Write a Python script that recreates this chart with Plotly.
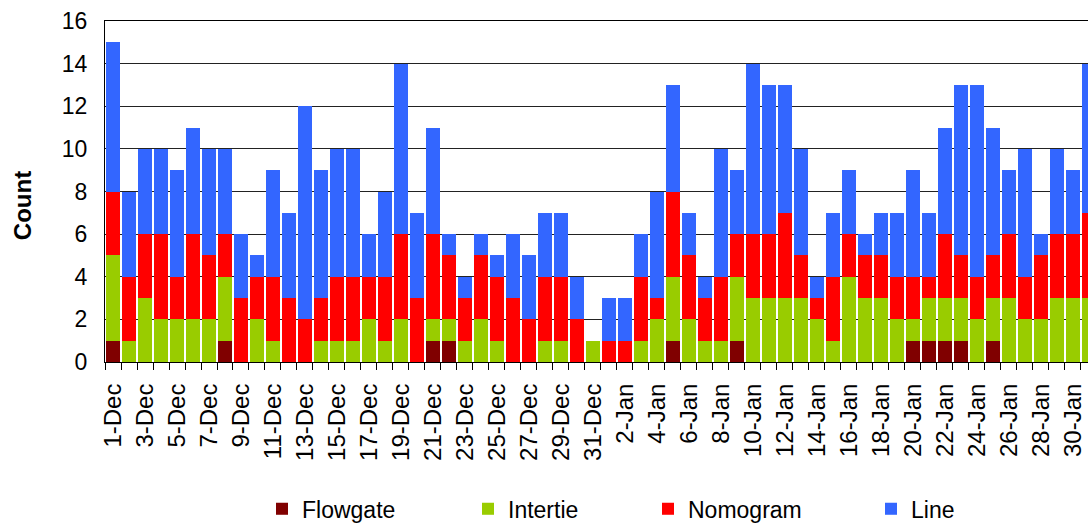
import plotly.graph_objects as go

dates = [f"{d}-Dec" for d in range(1, 32)] + [f"{d}-Jan" for d in range(1, 32)]

flowgate = [1,0,0,0,0,0,0,1,0,0,0,0,0,0,0,0,0,0,0,0,1,1,0,0,0,0,0,0,0,0,0,
            0,0,0,0,1,0,0,0,1,0,0,0,0,0,0,0,0,0,0,1,1,1,1,0,1,0,0,0,0,0,0]
intertie = [4,1,3,2,2,2,2,3,0,2,1,0,0,1,1,1,2,1,2,0,1,1,1,2,1,0,0,1,1,0,1,
            0,0,1,2,3,2,1,1,3,3,3,3,3,2,1,4,3,3,2,1,2,2,2,2,2,3,2,2,3,3,3]
nomogram = [3,3,3,4,2,4,3,2,3,2,3,3,2,2,3,3,2,3,4,3,4,3,2,3,3,3,2,3,3,2,0,
            1,1,3,1,4,3,2,3,2,3,3,4,2,1,3,2,2,2,2,2,1,3,2,2,2,3,2,3,3,3,4]
line = [7,4,4,4,5,5,5,4,3,1,5,4,10,6,6,6,2,4,8,4,5,1,1,1,1,3,3,3,3,2,0,
        2,2,2,5,5,2,1,6,3,8,7,6,5,1,3,3,1,2,3,5,3,5,8,9,6,3,6,1,4,3,7]

series = [
    ("Flowgate", flowgate, "#800000"),
    ("Intertie", intertie, "#99CC00"),
    ("Nomogram", nomogram, "#FF0000"),
    ("Line", line, "#3366FF"),
]

FONT = "Liberation Sans, Arial, sans-serif"
L, R_EDGE, W, H = 105, 1088, 1088, 523
TOP, BOT = 20.6, 362
plot_w = R_EDGE - L
plot_h = BOT - TOP

# legend block left edges (pixels)
legend_px = [262, 468, 648, 871]

fig = go.Figure()
for k, (name, vals, color) in enumerate(series):
    lg = "legend" if k == 0 else f"legend{k+1}"
    fig.add_trace(go.Bar(
        x=dates, y=vals, name=name, marker_color=color,
        marker_line_width=0, legend=lg, showlegend=True,
    ))

ticktext = [d if i % 2 == 0 else "" for i, d in enumerate(dates)]

layout_legends = {}
for k, px in enumerate(legend_px):
    key = "legend" if k == 0 else f"legend{k+1}"
    layout_legends[key] = dict(
        x=(px - L) / plot_w, xanchor="left",
        y=-(509 - BOT) / plot_h, yanchor="middle",
        orientation="h", font=dict(family=FONT, size=23, color="#000"),
        bgcolor="rgba(0,0,0,0)", itemwidth=30,
    )

fig.update_layout(
    width=W, height=H, showlegend=True,
    barmode="stack", bargap=0.125,
    plot_bgcolor="white", paper_bgcolor="white",
    margin=dict(l=L, r=W - R_EDGE, t=TOP, b=H - BOT, autoexpand=False),
    font=dict(family=FONT, size=23, color="#000"),
    **layout_legends,
)

fig.update_xaxes(
    type="category", range=[-0.5, 60.94],
    tickvals=dates, ticktext=ticktext, tickangle=-90,
    tickson="boundaries", ticks="outside", ticklen=7, tickcolor="#000", tickwidth=1,
    showline=True, linecolor="#000", linewidth=1, mirror=True,
    showgrid=False, tickfont=dict(family=FONT, size=24, color="#000"),
    ticklabelstandoff=11,
)
fig.update_yaxes(
    range=[0, 16], dtick=2, showgrid=True, gridcolor="#222", gridwidth=1,
    showline=True, linecolor="#000", linewidth=1, zeroline=False,
    ticks="", tickfont=dict(family=FONT, size=23, color="#000"),
    ticklabelstandoff=12,
)

fig.add_annotation(
    text="<b>Count</b>", textangle=-90, xref="paper", yref="paper",
    x=(22 - L) / plot_w, y=(BOT - 206) / plot_h, xanchor="center", yanchor="middle",
    showarrow=False, font=dict(family=FONT, size=24, color="#000"),
)

fig.write_html("out.html", config={"displayModeBar": False},
               post_script="document.body.style.margin='0';")
